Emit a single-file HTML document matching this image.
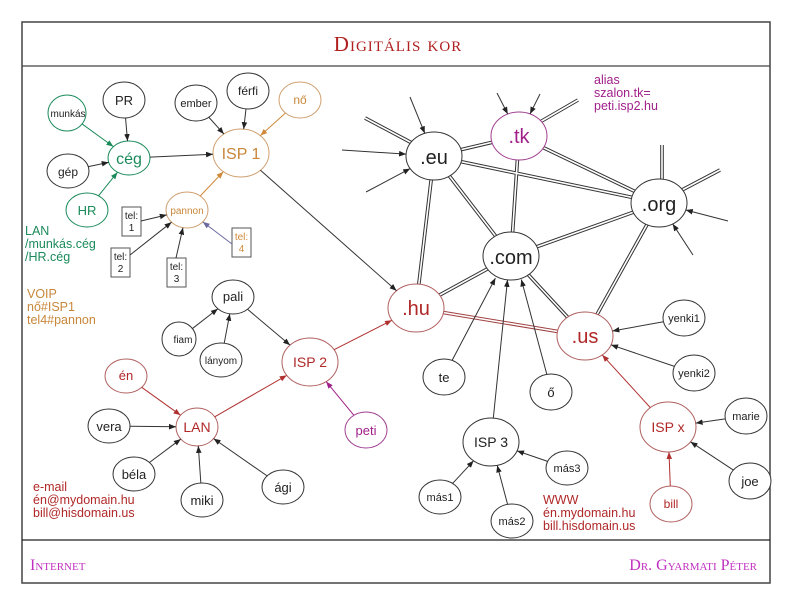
<!DOCTYPE html>
<html><head><meta charset="utf-8"><style>
body{margin:0;background:#fff}
svg{display:block}
text{font-family:"Liberation Sans",sans-serif}
.s{font-family:"Liberation Serif",serif;font-variant:small-caps}
</style></head><body>
<svg id="sv" width="800" height="600" viewBox="0 0 800 600" xmlns="http://www.w3.org/2000/svg">
<defs>
<marker id="a" viewBox="0 0 10 10" refX="10" refY="5" markerWidth="7" markerHeight="7" orient="auto"><path d="M0,1L10,5L0,9z" fill="#222"/></marker>
<marker id="r" viewBox="0 0 10 10" refX="10" refY="5" markerWidth="7" markerHeight="7" orient="auto"><path d="M0,1L10,5L0,9z" fill="#b03030"/></marker>
<marker id="g" viewBox="0 0 10 10" refX="10" refY="5" markerWidth="7" markerHeight="7" orient="auto"><path d="M0,1L10,5L0,9z" fill="#1a8a5a"/></marker>
<marker id="o" viewBox="0 0 10 10" refX="10" refY="5" markerWidth="7" markerHeight="7" orient="auto"><path d="M0,1L10,5L0,9z" fill="#d08a3a"/></marker>
<marker id="p" viewBox="0 0 10 10" refX="10" refY="5" markerWidth="7" markerHeight="7" orient="auto"><path d="M0,1L10,5L0,9z" fill="#a0208a"/></marker>
<marker id="b" viewBox="0 0 10 10" refX="10" refY="5" markerWidth="7" markerHeight="7" orient="auto"><path d="M0,1L10,5L0,9z" fill="#6a6aa0"/></marker>
</defs>
<rect x="22" y="22" width="748" height="561" fill="none" stroke="#444" stroke-width="1.5"/>
<line x1="22" y1="66" x2="770" y2="66" stroke="#444" stroke-width="1.2"/>
<line x1="22" y1="540" x2="770" y2="540" stroke="#222" stroke-width="1.2"/>
<text x="398" y="51" text-anchor="middle" class="s" font-size="21" fill="#b02020" letter-spacing="1">Digitális  kor</text>
<text x="30" y="570" class="s" font-size="16" fill="#c030c0">Internet</text>
<text x="757" y="570" text-anchor="end" class="s" font-size="16" fill="#c030c0">Dr. Gyarmati Péter</text>

<g stroke="#333" stroke-width="3.6" fill="none">
<path d="M434,156L519,136M434,156L659,203M434,156L511,256M434,156L416,308M519,136L511,256M519,136L659,203M659,203L511,256M659,203L585,336M511,256L416,308M511,256L585,336M365,118L412,143M540,122L578,100M662,145L662,180M682,190L720,170"/>
</g>
<path d="M416,308L585,336" stroke="#a04040" stroke-width="3.6"/>
<g stroke="#fff" stroke-width="1.6" fill="none">
<path d="M434,156L519,136M434,156L659,203M434,156L511,256M434,156L416,308M519,136L511,256M519,136L659,203M659,203L511,256M659,203L585,336M511,256L416,308M511,256L585,336M365,118L412,143M540,122L578,100M662,145L662,180M682,190L720,170M416,308L585,336"/>
</g>

<g fill="#fff" stroke="#333" stroke-width="1">
<ellipse cx="124" cy="100" rx="21" ry="18"/>
<ellipse cx="68" cy="171" rx="21" ry="17"/>
<ellipse cx="196" cy="103" rx="21" ry="18"/>
<ellipse cx="248" cy="91" rx="21" ry="18"/>
<ellipse cx="233" cy="297" rx="21" ry="17"/>
<ellipse cx="179" cy="339" rx="17" ry="17"/>
<ellipse cx="221" cy="360" rx="21" ry="17"/>
<ellipse cx="109" cy="426" rx="21" ry="17"/>
<ellipse cx="134" cy="474" rx="21" ry="17"/>
<ellipse cx="202" cy="500" rx="21" ry="17"/>
<ellipse cx="283" cy="487" rx="21" ry="17"/>
<ellipse cx="434" cy="156" rx="28" ry="24"/>
<ellipse cx="659" cy="203" rx="28" ry="24"/>
<ellipse cx="511" cy="256" rx="28" ry="24"/>
<ellipse cx="684" cy="318" rx="21" ry="18"/>
<ellipse cx="694" cy="373" rx="21" ry="18"/>
<ellipse cx="444" cy="377" rx="21" ry="18"/>
<ellipse cx="551" cy="392" rx="21" ry="18"/>
<ellipse cx="491" cy="442" rx="28" ry="24"/>
<ellipse cx="567" cy="468" rx="21" ry="17"/>
<ellipse cx="440" cy="497" rx="21" ry="17"/>
<ellipse cx="512" cy="521" rx="21" ry="17"/>
<ellipse cx="746" cy="416" rx="21" ry="18"/>
<ellipse cx="750" cy="481" rx="21" ry="18"/>
</g>
<g fill="#fff" stroke="#1a8a5a" stroke-width="1">
<ellipse cx="67" cy="113" rx="19" ry="18"/>
<ellipse cx="129" cy="158" rx="21" ry="17"/>
<ellipse cx="87" cy="210" rx="21" ry="17"/>
</g>
<g fill="#fff" stroke="#d0a070" stroke-width="1">
<ellipse cx="300" cy="100" rx="21" ry="18"/>
<ellipse cx="241" cy="153" rx="28" ry="24"/>
<ellipse cx="187" cy="210" rx="21" ry="18"/>
</g>
<g fill="#fff" stroke="#b06060" stroke-width="1">
<ellipse cx="126" cy="376" rx="21" ry="17"/>
<ellipse cx="197" cy="427" rx="21" ry="19"/>
<ellipse cx="310" cy="362" rx="28" ry="24"/>
<ellipse cx="416" cy="308" rx="28" ry="24"/>
<ellipse cx="585" cy="336" rx="28" ry="24"/>
<ellipse cx="668" cy="427" rx="28" ry="25"/>
<ellipse cx="671" cy="504" rx="21" ry="18"/>
</g>
<g fill="#fff" stroke="#a04090" stroke-width="1">
<ellipse cx="519" cy="136" rx="28" ry="24"/>
<ellipse cx="366" cy="430" rx="21" ry="18"/>
</g>
<g fill="#fff" stroke="#555" stroke-width="1">
<rect x="122" y="207" width="19" height="29"/>
<rect x="111" y="248" width="19" height="29"/>
<rect x="167" y="258" width="19" height="29"/>
<rect x="232" y="228" width="19" height="29"/>
</g>
<g id="arr"></g>
<g font-size="10" text-anchor="middle" fill="#222">
<text x="131.5" y="219">tel:</text><text x="131.5" y="231">1</text>
<text x="120.5" y="260">tel:</text><text x="120.5" y="272">2</text>
<text x="176.5" y="270">tel:</text><text x="176.5" y="282">3</text>
<text x="241.5" y="240" fill="#d08a3a">tel:</text><text x="241.5" y="252" fill="#d08a3a">4</text>
</g>
<g text-anchor="middle" fill="#222">
<text x="124" y="105" font-size="13">PR</text>
<text x="68" y="176" font-size="12">gép</text>
<text x="196" y="107" font-size="11">ember</text>
<text x="248" y="95" font-size="12">férfi</text>
<text x="233" y="301" font-size="13">pali</text>
<text x="183" y="343" font-size="10">fiam</text>
<text x="221" y="364" font-size="10">lányom</text>
<text x="109" y="431" font-size="13">vera</text>
<text x="134" y="479" font-size="13">béla</text>
<text x="202" y="505" font-size="13">miki</text>
<text x="283" y="492" font-size="13">ági</text>
<text x="434" y="164" font-size="20">.eu</text>
<text x="659" y="211" font-size="20">.org</text>
<text x="511" y="264" font-size="20">.com</text>
<text x="684" y="322" font-size="11">yenki1</text>
<text x="694" y="377" font-size="11">yenki2</text>
<text x="444" y="382" font-size="13">te</text>
<text x="551" y="397" font-size="13">ő</text>
<text x="491" y="447" font-size="14">ISP 3</text>
<text x="567" y="472" font-size="11">más3</text>
<text x="440" y="501" font-size="11">más1</text>
<text x="512" y="525" font-size="11">más2</text>
<text x="746" y="420" font-size="11">marie</text>
<text x="750" y="486" font-size="13">joe</text>
<text x="68" y="117" font-size="10">munkás</text>
</g>
<g text-anchor="middle" fill="#1a8a5a">
<text x="129" y="164" font-size="16">cég</text>
<text x="87" y="215" font-size="13">HR</text>
</g>
<g text-anchor="middle" fill="#c8873a">
<text x="300" y="104" font-size="12">nő</text>
<text x="241" y="159" font-size="16">ISP 1</text>
<text x="187" y="214" font-size="10">pannon</text>
</g>
<g text-anchor="middle" fill="#b02828">
<text x="126" y="380" font-size="13">én</text>
<text x="197" y="432" font-size="14">LAN</text>
<text x="310" y="367" font-size="14">ISP 2</text>
<text x="416" y="315" font-size="20">.hu</text>
<text x="585" y="343" font-size="20">.us</text>
<text x="668" y="432" font-size="14">ISP x</text>
<text x="671" y="508" font-size="12">bill</text>
</g>
<g text-anchor="middle" fill="#a0208a">
<text x="519" y="143" font-size="20">.tk</text>
<text x="366" y="435" font-size="13">peti</text>
</g>
<g font-size="12.5" fill="#1a8a5a"><text x="25" y="235">LAN</text><text x="25" y="248">/munkás.cég</text><text x="25" y="261">/HR.cég</text></g>
<g font-size="12.5" fill="#c8873a"><text x="27" y="298">VOIP</text><text x="27" y="311">nő#ISP1</text><text x="27" y="324">tel4#pannon</text></g>
<g font-size="12.5" fill="#b02828"><text x="33" y="491">e-mail</text><text x="33" y="504">én@mydomain.hu</text><text x="33" y="517">bill@hisdomain.us</text></g>
<g font-size="12.5" fill="#b02828"><text x="543" y="504">WWW</text><text x="543" y="517">én.mydomain.hu</text><text x="543" y="530">bill.hisdomain.us</text></g>
<g font-size="12.5" fill="#a0208a"><text x="594" y="84">alias</text><text x="594" y="97">szalon.tk=</text><text x="594" y="110">peti.isp2.hu</text></g>
</svg>
<script>
var N={PR:[124,100,21,18],gep:[68,171,21,17],ember:[196,103,21,18],ferfi:[248,91,21,18],pali:[233,297,21,17],fiam:[179,339,17,17],lanyom:[221,360,21,17],vera:[109,426,21,17],bela:[134,474,21,17],miki:[202,500,21,17],agi:[283,487,21,17],eu:[434,156,28,24],org:[659,203,28,24],com:[511,256,28,24],y1:[684,318,21,18],y2:[694,373,21,18],te:[444,377,21,18],o:[551,392,21,18],isp3:[491,442,28,24],m3:[567,468,21,17],m1:[440,497,21,17],m2:[512,521,21,17],marie:[746,416,21,18],joe:[750,481,21,18],munkas:[67,113,19,18],ceg:[129,158,21,17],HR:[87,210,21,17],no:[300,100,21,18],isp1:[241,153,28,24],pannon:[187,210,21,18],en:[126,376,21,17],LAN:[197,427,21,19],isp2:[310,362,28,24],hu:[416,308,28,24],us:[585,336,28,24],ispx:[668,427,28,25],bill:[671,504,21,18],tk:[519,136,28,24],peti:[366,430,21,18]};
var C={a:"#333",r:"#b03030",g:"#1a8a5a",o:"#d08a3a",p:"#a0208a",b:"#6a6aa0"};
var E=[["isp1","hu","a"],["PR","ceg","a"],["ceg","isp1","a"],["ember","isp1","a"],["ferfi","isp1","a"],["gep","ceg","a"],[[141,221],"pannon","a"],[[130,255],"pannon","a"],[[176,258],"pannon","a"],["pali","isp2","a"],["fiam","pali","a"],["lanyom","pali","a"],["vera","LAN","a"],["bela","LAN","a"],["miki","LAN","a"],["agi","LAN","a"],["te","com","a",[-8,0]],["isp3","com","a",[-2,0]],["o","com","a",[8,0]],["y1","us","a"],["y2","us","a"],["marie","ispx","a"],["joe","ispx","a"],["m1","isp3","a"],["m2","isp3","a"],["m3","isp3","a"],[[410,97],"eu","a"],[[342,150],"eu","a"],[[366,192],"eu","a"],[[497,93],"tk","a"],[[540,94],"tk","a"],[[728,221],"org","a"],[[693,255],"org","a"],["munkas","ceg","g"],["HR","ceg","g"],["no","isp1","o"],["pannon","isp1","o"],[[232,244],"pannon","b"],["en","LAN","r"],["LAN","isp2","r"],["isp2","hu","r"],["ispx","us","r"],["bill","ispx","r"],["peti","isp2","p"]];
function bp(n,px,py){var dx=px-n[0],dy=py-n[1];var t=1/Math.sqrt((dx/n[2])*(dx/n[2])+(dy/n[3])*(dy/n[3]));return [n[0]+dx*t,n[1]+dy*t];}
var g=document.getElementById("arr"),ns="http://www.w3.org/2000/svg";
E.forEach(function(e){var t=N[e[1]];var s,sp;var tc=[t[0],t[1]];if(e[3]){tc=[t[0]+e[3][0],t[1]];}
if(typeof e[0]=="string"){var f=N[e[0]];sp=bp(f,tc[0],tc[1]);}else sp=e[0];
var tt=[t[0],t[1],t[2],t[3]];var ep=bp(tt,sp[0]-(tc[0]-t[0]),sp[1]);ep=[ep[0]+(tc[0]-t[0])*0.6,ep[1]];
var l=document.createElementNS(ns,"line");l.setAttribute("x1",sp[0]);l.setAttribute("y1",sp[1]);l.setAttribute("x2",ep[0]);l.setAttribute("y2",ep[1]);l.setAttribute("stroke",C[e[2]]);l.setAttribute("stroke-width","1");l.setAttribute("marker-end","url(#"+e[2]+")");g.appendChild(l);});
</script>
</body></html>
